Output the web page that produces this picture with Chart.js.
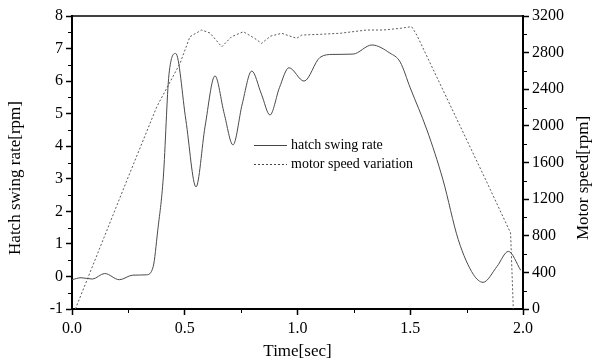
<!DOCTYPE html>
<html>
<head>
<meta charset="utf-8">
<script src="https://cdn.jsdelivr.net/npm/chart.js@4/dist/chart.umd.min.js"></script>
<style>
  html, body { margin: 0; padding: 0; background: #fff; }
  #wrap { width: 593px; height: 363px; }
</style>
</head>
<body>
<div id="wrap"><canvas id="swingChart"></canvas></div>
<script>
// hatch swing rate (left axis, rpm)
const swingTime = [0.00, 0.04, 0.09, 0.145, 0.21, 0.27, 0.33, 0.36, 0.38, 0.405, 0.43, 0.46, 0.505, 0.55, 0.59,
    0.634, 0.675, 0.714, 0.755, 0.797, 0.84, 0.878, 0.92, 0.962, 1.029, 1.10, 1.157, 1.246, 1.33, 1.41,
    1.455, 1.50, 1.574, 1.645, 1.713, 1.78, 1.823, 1.885, 1.935, 1.99];
const swingRate = [-0.10, -0.04, -0.08, 0.09, -0.10, 0.04, 0.05, 0.30, 1.40, 3.05, 6.2, 6.85, 4.8, 2.75, 4.6,
    6.16, 5.0, 4.04, 5.3, 6.31, 5.6, 4.96, 5.8, 6.41, 6.0, 6.73, 6.82, 6.83, 7.11, 6.86,
    6.59, 5.79, 4.5, 2.97, 1.13, 0.06, -0.18, 0.31, 0.77, 0.19];

// motor speed variation (right axis, rpm)
const motorTime = [0.015, 0.25, 0.376, 0.479, 0.523, 0.575, 0.612, 0.664, 0.708, 0.76, 0.81, 0.841, 0.88, 0.93,
    0.996, 1.019, 1.10, 1.188, 1.307, 1.38, 1.455, 1.506, 1.529, 1.835, 1.945, 1.957];
const motorSpeed = [0, 1445, 2209, 2683, 2974, 3047, 3014, 2864, 2974, 3028, 2956, 2901, 2980, 3011,
    2956, 2992, 3000, 3011, 3047, 3047, 3065, 3084, 2992, 1409, 830, 0];

const legendLabels = ["hatch swing rate", "motor speed variation"];
const xTitle = "Time[sec]";
const yTitle = "Hatch swing rate[rpm]";
const y2Title = "Motor speed[rpm]";

const FONT = "'Liberation Serif', 'Times New Roman', serif";

const isMajorX = (v) => Math.abs(v * 2 - Math.round(v * 2)) < 1e-6;
const isMajorY = (v) => Number.isInteger(v);
const isMajorY2 = (v) => v % 400 === 0;

const extras = {
    id: "extras",
    afterDraw(chart) {
        const ctx = chart.ctx;
        const a = chart.chartArea;
        ctx.save();
        // top frame line
        ctx.strokeStyle = "#000";
        ctx.lineWidth = 1.5;
        ctx.beginPath();
        ctx.moveTo(a.left, a.top);
        ctx.lineTo(a.right, a.top);
        ctx.stroke();

        // short minor ticks
        ctx.lineWidth = 1;
        ctx.beginPath();
        chart.scales.x.ticks.forEach(t => {
            if (isMajorX(t.value)) return;
            const px = Math.round(chart.scales.x.getPixelForValue(t.value)) + 0.5;
            ctx.moveTo(px, a.bottom); ctx.lineTo(px, a.bottom + 4);
        });
        chart.scales.y.ticks.forEach(t => {
            if (isMajorY(t.value)) return;
            const py = Math.round(chart.scales.y.getPixelForValue(t.value)) + 0.5;
            ctx.moveTo(a.left, py); ctx.lineTo(a.left - 4, py);
        });
        chart.scales.y2.ticks.forEach(t => {
            if (isMajorY2(t.value)) return;
            const py = Math.round(chart.scales.y2.getPixelForValue(t.value)) + 0.5;
            ctx.moveTo(a.right, py); ctx.lineTo(a.right + 4, py);
        });
        ctx.stroke();

        // axis titles on both sides, reading upwards
        ctx.fillStyle = "#000";
        ctx.font = "17px " + FONT;
        ctx.textAlign = "center";
        ctx.textBaseline = "middle";
        ctx.save();
        ctx.translate(16, 178);
        ctx.rotate(-Math.PI / 2);
        ctx.fillText(yTitle, 0, 0);
        ctx.restore();
        ctx.save();
        ctx.translate(584, 178);
        ctx.rotate(-Math.PI / 2);
        ctx.fillText(y2Title, 0, 0);
        ctx.restore();

        // legend inside the plot
        ctx.font = "14px " + FONT;
        ctx.textAlign = "left";
        const rows = [{ y: 145, dash: [] }, { y: 164, dash: [2, 2] }];
        rows.forEach((r, i) => {
            ctx.strokeStyle = "#444";
            ctx.lineWidth = 1;
            ctx.setLineDash(r.dash);
            ctx.beginPath();
            ctx.moveTo(254, r.y + 0.5);
            ctx.lineTo(287, r.y + 0.5);
            ctx.stroke();
            ctx.setLineDash([]);
            ctx.fillText(legendLabels[i], 291, r.y);
        });
        ctx.restore();
    }
};

// major ticks drawn by Chart.js, minor ones hidden here and drawn short by the plugin
const tickCol = (major) => (c) => major(c.tick.value) ? "#000" : "rgba(0,0,0,0)";

new Chart(document.getElementById("swingChart"), {
    type: "line",
    data: {
        datasets: [
            {
                label: legendLabels[0],
                data: swingTime.map((t, i) => ({ x: t, y: swingRate[i] })),
                yAxisID: "y",
                borderColor: "#4a4a4a",
                borderWidth: 1,
                pointRadius: 0,
                cubicInterpolationMode: "monotone",
                fill: false
            },
            {
                label: legendLabels[1],
                data: motorTime.map((t, i) => ({ x: t, y: motorSpeed[i] })),
                yAxisID: "y2",
                borderColor: "#5a5a5a",
                borderWidth: 1,
                borderDash: [2, 2],
                pointRadius: 0,
                tension: 0,
                fill: false
            }
        ]
    },
    options: {
        responsive: true,
        maintainAspectRatio: false,
        animation: false,
        layout: { padding: { top: 16, left: 0, right: 0, bottom: 0 } },
        plugins: { legend: { display: false }, tooltip: { enabled: false } },
        scales: {
            x: {
                type: "linear",
                min: 0, max: 2,
                border: { color: "#000", width: 2 },
                grid: { drawOnChartArea: false, drawTicks: true, tickLength: 6, tickWidth: 1.5,
                        tickColor: tickCol(isMajorX) },
                ticks: {
                    stepSize: 0.25, autoSkip: false, maxRotation: 0, padding: 4,
                    color: "#000", font: { family: FONT, size: 16 },
                    callback: (v) => isMajorX(v) ? v.toFixed(1) : ""
                },
                title: { display: true, text: xTitle, color: "#000", font: { family: FONT, size: 17 },
                         padding: { top: 0, bottom: 1 } },
                afterFit: (s) => { s.height = 54; }
            },
            y: {
                position: "left",
                min: -1, max: 8,
                border: { color: "#000", width: 2 },
                grid: { drawOnChartArea: false, drawTicks: true, tickLength: 6, tickWidth: 1.5,
                        tickColor: tickCol(isMajorY) },
                ticks: {
                    stepSize: 0.5, autoSkip: false, padding: 3,
                    color: "#000", font: { family: FONT, size: 16 },
                    callback: (v) => isMajorY(v) ? String(v) : ""
                },
                afterFit: (s) => { s.width = 72; }
            },
            y2: {
                position: "right",
                min: 0, max: 3200,
                border: { color: "#000", width: 2 },
                grid: { drawOnChartArea: false, drawTicks: true, tickLength: 6, tickWidth: 1.5,
                        tickColor: tickCol(isMajorY2) },
                ticks: {
                    stepSize: 200, autoSkip: false, padding: 3,
                    color: "#000", font: { family: FONT, size: 16 },
                    callback: (v) => isMajorY2(v) ? String(v) : ""
                },
                afterFit: (s) => { s.width = 70; }
            }
        }
    },
    plugins: [extras]
});
</script>
</body>
</html>
